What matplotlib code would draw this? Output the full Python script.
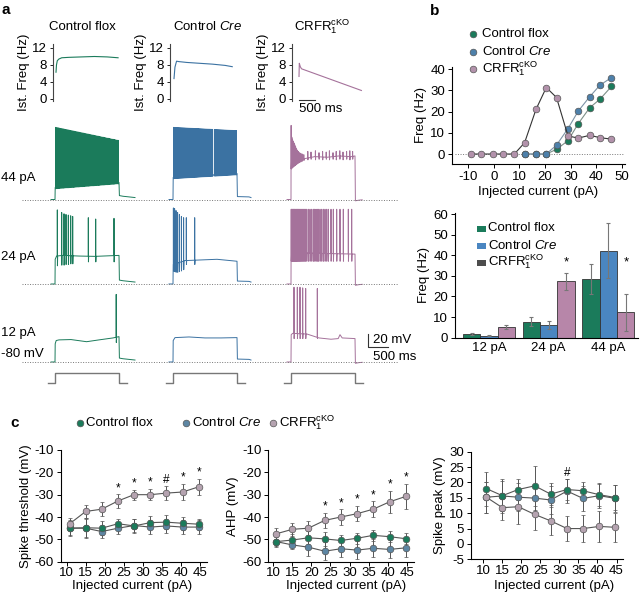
import numpy as np
import matplotlib
matplotlib.use('Agg')
import matplotlib.pyplot as plt
from matplotlib.lines import Line2D
from matplotlib.patches import Rectangle

plt.rcParams['font.family'] = ['Liberation Sans', 'DejaVu Sans']
plt.rcParams['mathtext.fontset'] = 'custom'
plt.rcParams['mathtext.rm'] = 'Liberation Sans'
plt.rcParams['mathtext.it'] = 'Liberation Sans:italic'
plt.rcParams['mathtext.bf'] = 'Liberation Sans:bold'
plt.rcParams['axes.linewidth'] = 0.8
plt.rcParams['axes.unicode_minus'] = False

# ---------------- data ----------------
group_labels = ['Control flox', r'Control $\mathit{Cre}$', r'CRFR$_1^{\mathrm{cKO}}$']
c_green = '#1b7b5b'
c_blue = '#3b72a2'
c_purple = '#a5729b'

# panel a insets: instantaneous frequency (Hz) vs time (ms)
ins_t_flox = [0, 15, 40, 90, 180, 400, 800, 1200, 1600, 1940]
ins_f_flox = [6.3, 8.0, 9.0, 9.4, 9.7, 9.8, 9.9, 10.0, 9.9, 9.7]
ins_t_cre = [0, 30, 80, 150, 400, 800, 1200, 1600, 1820]
ins_f_cre = [4.8, 7.5, 8.9, 8.8, 8.6, 8.4, 8.2, 7.9, 7.6]
ins_t_cko = [0, 10, 40, 80, 1950]
ins_f_cko = [5.3, 8.4, 7.6, 7.1, 2.0]

# panel a traces (mV, ms). Step 0-1600 ms, baseline -80 mV
step_dur = 1600
rows = ['44 pA', '24 pA', '12 pA']
row_off = [250, 120, 0]
col_off = [0, 2950, 5900]

# plateau knots
plat = {
    ('flox', '44 pA'): ([5, 1600], [-61.5, -53.8]),
    ('flox', '24 pA'): ([5, 40, 200, 600, 1000, 1400, 1600], [-42, -37, -36, -37, -37.5, -36.5, -36]),
    ('flox', '12 pA'): ([5, 30, 100, 400, 790, 1100, 1450, 1600], [-52, -47, -46, -45.5, -48.8, -46, -43, -41]),
    ('cre', '44 pA'): ([5, 1600], [-46, -40]),
    ('cre', '24 pA'): ([5, 300, 700, 1100, 1600], [-50, -44, -43, -42, -45]),
    ('cre', '12 pA'): ([5, 50, 400, 800, 1200, 1600], [-47, -42.5, -41.5, -43, -43, -42.5]),
    ('cko', '44 pA'): ([5, 50, 350, 600, 900, 1200, 1500, 1600], [-22, -24, -17, -14, -15, -13, -14, -13]),
    ('cko', '24 pA'): ([5, 1600], [-32, -34]),
    ('cko', '12 pA'): ([5, 40, 400, 700, 1000, 1180, 1225, 1280, 1600], [-38, -36, -37, -43, -45, -44, -38, -43, -44]),
}
# spikes: times (ms), peaks (mV), troughs (mV)
spk = {
    ('flox', '24 pA'): ([58, 167, 225, 275, 333, 392, 442, 833, 1017, 1475],
                        [34, 30, 28, 27, 26, 25, 24, 22, 20, 21],
                        [-52, -51, -51, -50, -50, -49, -49, -46, -46, -46]),
    ('flox', '12 pA'): ([1530], [24], [-50]),
    ('cre', '24 pA'): ([10, 40, 75, 115, 160, 210, 265, 333, 542],
                       [37, 36, 33, 30, 27, 24, 22, 22, 22],
                       [-60, -61, -62, -62, -61, -60, -58, -50, -50]),
    ('cre', '12 pA'): ([], [], []),
    ('cko', '44 pA'): ([3, 20, 38, 56, 75, 95, 116, 138, 162, 188, 216, 246, 280, 320,
                        420, 500, 610, 700, 790, 880, 960, 1050, 1130, 1220, 1300, 1390, 1470, 1540],
                       [34, 16, 13, 10, 7, 4, 1, -2, -4, -6, -8, -9, -10, -11,
                        -6, -7, -5, -8, -6, -7, -5, -8, -6, -5, -7, -6, -5, -6],
                       [-33, -32, -31, -30, -29, -28, -27, -26, -25, -24, -23, -22, -21, -20,
                        -19, -18, -19, -18, -19, -18, -19, -18, -19, -18, -19, -18, -19, -18]),
    ('cko', '24 pA'): ([5, 22, 40, 58, 76, 95, 114, 133, 153, 173, 194, 215, 237, 260, 284, 308, 333, 360,
                        392, 433, 475, 517, 558, 592, 625, 655, 683, 725, 767, 808, 850, 892, 933, 1000,
                        1058, 1142, 1225, 1308, 1433, 1517],
                       [35] * 40, [-45] * 40),
    ('cko', '12 pA'): ([75, 158, 225, 292, 367, 658], [35, 35, 35, 34, 33, 33], [-44, -44, -44, -44, -44, -44]),
}
# post-step (time, mV)
post = {
    'flox': ([1610, 1700, 2000], [-74, -75, -77]),
    'cre': ([1610, 1900, 1950], [-75.5, -76, -77]),
    'cko': ([1610, 1700, 1780], [-82, -81, -80.5]),
}

# panel b: frequency-current
b_current = [-9, -5, -0.5, 3.5, 8, 12, 16.5, 20.5, 24.5, 29, 33, 37.5, 41.5, 46]
b_flox = [0, 0, 0, 0, 0, 0, 0, 0, 2.2, 6.3, 14.3, 21.8, 25.8, 31.8]
b_cre = [0, 0, 0, 0, 0, 0, 0, 0, 4.2, 12.0, 20.2, 27.0, 32.4, 36.0]
b_cko = [0, 0, 0, 0, 0, 5.3, 21.1, 31.3, 26.6, 8.5, 7.5, 8.8, 7.7, 7.0]

# dense spike trains at 44 pA from panel b frequencies
n_flox44 = int(round(b_flox[-1] * step_dur / 1000))
n_cre44 = int(round(b_cre[-1] * step_dur / 1000))

# panel b bars
bar_currents = ['12 pA', '24 pA', '44 pA']
bar_flox = [1.7, 7.8, 28.5]
bar_flox_err = [0.6, 2.2, 7.3]
bar_cre = [1.0, 6.1, 42.3]
bar_cre_err = [0.4, 1.8, 13.3]
bar_cko = [5.0, 27.3, 12.3]
bar_cko_err = [1.0, 4.3, 9.0]
bar_sig = ['', '*', '*']

# panel c
c_x = [10.8, 15.0, 19.2, 23.5, 27.7, 32.0, 36.2, 40.5, 44.7]
thr_flox = [-45, -44.8, -45, -43, -44, -42.5, -42.3, -42.8, -43.2]
thr_flox_err = [3, 4, 3, 2, 3, 3, 3, 3, 2.5]
thr_cre = [-45, -45, -46.5, -45, -43.8, -44.5, -44, -44.5, -44.5]
thr_cre_err = [3.5, 4.5, 3, 2.5, 3, 3, 3, 3, 3]
thr_cko = [-43, -37.5, -36.5, -32.8, -30, -30, -29.3, -28.8, -26.5]
thr_cko_err = [2.5, 3, 3, 3, 2.2, 2.5, 3, 3.5, 3.5]
thr_sig = ['', '', '', '*', '*', '*', '#', '*', '*']

ahp_flox = [-51, -50.3, -49.3, -49.8, -50.5, -49.5, -48.2, -48.8, -49.7]
ahp_flox_err = [2.5, 2.5, 3, 3, 2.5, 2.5, 2.5, 2.5, 2.5]
ahp_cre = [-51, -52.5, -53.5, -55.3, -54.2, -54.8, -54, -54.5, -53.8]
ahp_cre_err = [2, 2, 4, 4, 3.5, 4, 4, 4, 4]
ahp_cko = [-47.5, -45.5, -45, -41.5, -40, -38.5, -36.5, -33.2, -30.8]
ahp_cko_err = [2.8, 3, 3, 3.5, 3.5, 3.5, 3.5, 5, 5.5]
ahp_sig = ['', '', '', '*', '*', '*', '*', '*', '*']

pk_flox = [18, 15.7, 17.7, 18.9, 16.2, 17.7, 17.3, 16, 15.1]
pk_flox_err = [5.5, 5.5, 3.5, 6.5, 3.5, 3.5, 3, 3.5, 4]
pk_cre = [15.2, 15.6, 15.2, 14.9, 14.3, 17.2, 14.8, 15.7, 14.8]
pk_cre_err = [5, 5, 4.5, 4, 4.5, 4, 4, 4, 4.5]
pk_cko = [15.2, 11.8, 12.1, 9.6, 7.5, 5, 5, 5.7, 5.4]
pk_cko_err = [5, 4, 5.5, 5, 4.5, 4, 4.5, 5, 4.8]
pk_sig = ['', '', '', '', '', '#', '', '', '']

# ---------------- figure ----------------
W, H = 640, 593
fig = plt.figure(figsize=(W / 100, H / 100), dpi=100)


def ax_px(l, t, r, b):
    return fig.add_axes([l / W, 1 - b / H, (r - l) / W, (b - t) / H])


def T(x, y, s, **kw):
    kw.setdefault('fontsize', 9)
    return fig.text(x / W, 1 - y / H, s, **kw)


def fig_marker(x, y, color, ms=4.8):
    fig.add_artist(Line2D([x / W], [1 - y / H], transform=fig.transFigure, marker='o', ms=ms,
                          mfc=color, mec='#555555', mew=0.5, ls='none'))


# panel letters
T(2, 10, 'a', fontsize=11, fontweight='bold', va='center')
T(430, 11, 'b', fontsize=11, fontweight='bold', va='center')
T(10, 423, 'c', fontsize=11, fontweight='bold', va='center')

# ---- panel a insets
ins = [(53, 56, ins_t_flox, ins_f_flox, c_green, 82),
       (170, 174, ins_t_cre, ins_f_cre, c_blue, 208),
       (292, 299, ins_t_cko, ins_f_cko, c_purple, 322)]
ms_per_px = 31.25
for i, (spx, t0, tt, ff, col, tx) in enumerate(ins):
    a = ax_px(spx, 43.75, spx + 72, 101.1)
    a.plot(tt, ff, color=col, lw=0.8)
    a.set_xlim(-(t0 - spx) * ms_per_px, (spx + 72 - t0) * ms_per_px)
    a.set_ylim(-0.5, 13)
    a.set_yticks([0, 4, 8, 12])
    a.set_xticks([])
    for s in ['top', 'right', 'bottom']:
        a.spines[s].set_visible(False)
    a.spines['left'].set_color('#444444')
    a.tick_params(axis='y', length=2.5, width=0.6, labelsize=9.5, pad=2)
    a.set_ylabel('Ist. Freq (Hz)', fontsize=9.5, labelpad=1)
    a.patch.set_alpha(0)
    T(tx, 27, group_labels[i], ha='center', va='center', fontsize=9.5)
    if i == 2:
        a.plot([0, 500], [-0.3, -0.3], color='#333333', lw=0.8, clip_on=False)
        a.text(0, -2.3, '500 ms', fontsize=9.5, ha='left', va='center')

# ---- panel a traces
axt = ax_px(0, 105, 400, 395)
axt.set_xlim(-1375, 8625)
axt.set_ylim(-130.8, 315.4)
axt.axis('off')
axt.patch.set_alpha(0)


def build_trace(pt, pv, spikes, post_tv, base=-80, t_pre=-100):
    pts = [(t_pre, base), (0, base)]
    pts += list(zip(pt, pv))
    st, sp, sr = spikes
    for ts, pk, tr in zip(st, sp, sr):
        pts += [(ts - 2, np.interp(ts - 2, pt, pv)), (ts, pk), (ts + 3, tr),
                (ts + 9, np.interp(ts + 9, pt, pv))]
    pts.sort(key=lambda p: p[0])
    pts.append((step_dur, np.interp(step_dur, pt, pv)))
    pts += list(zip(post_tv[0], post_tv[1]))
    arr = np.array(pts)
    return arr[:, 0], arr[:, 1]


def dense_train(n, t_first, t_last, pk0, pk1, pt, pv):
    ts = np.linspace(t_first, t_last, n)
    pks = np.interp(ts, [t_first, t_last], [pk0, pk1])
    trs = np.interp(ts, pt, pv) - 2
    return ts, pks, trs


genos = ['flox', 'cre', 'cko']
cols = [c_green, c_blue, c_purple]
for ci, g in enumerate(genos):
    for ri, r in enumerate(rows):
        pt, pv = plat[(g, r)]
        if (g, r) == ('flox', '44 pA'):
            spikes = dense_train(n_flox44, 20, 1580, 31, 11, pt, pv)
        elif (g, r) == ('cre', '44 pA'):
            ts, pks, trs = dense_train(n_cre44 + 1, 15, 1585, 31, 26, pt, pv)
            keep = np.abs(ts - 1025) > 14
            spikes = (ts[keep], pks[keep], trs[keep])
        else:
            spikes = spk[(g, r)]
        tx, vy = build_trace(pt, pv, spikes, post[g])
        axt.plot(tx + col_off[ci], vy + row_off[ri], color=cols[ci], lw=0.7)

for ri, r in enumerate(rows):
    axt.plot([-825, 8575], [-80 + row_off[ri]] * 2, color='#777777', lw=0.7, ls=(0, (1, 1.6)))

# row labels
T(1, 178, '44 pA', va='center', fontsize=9.5)
T(1, 257, '24 pA', va='center', fontsize=9.5)
T(1, 333, '12 pA', va='center', fontsize=9.5)
T(1, 354, '-80 mV', va='center', fontsize=9.5)

# scale bars
sx, sy = 7825, -56.9
axt.plot([sx, sx, sx + 500], [sy + 20, sy, sy], color='#333333', lw=0.8)
axt.text(7958, -46.2, '20 mV', fontsize=9.5, va='center', ha='left')
axt.text(7958, -71.8, '500 ms', fontsize=9.5, va='center', ha='left')

# stimulus
axs = ax_px(0, 368, 400, 388)
axs.set_xlim(-1375, 8625)
axs.set_ylim(-0.5, 1.5)
axs.axis('off')
axs.patch.set_alpha(0)
for ci in range(3):
    o = col_off[ci]
    axs.plot(np.array([-175, 0, 0, step_dur, step_dur, 1800]) + o, [0, 0, 1, 1, 0, 0],
             color='#777777', lw=1.0)

# ---- panel b top
axb = ax_px(452, 66.7, 625, 164)
axb.axhline(0, color='#777777', lw=0.7, ls=(0, (1, 1.6)), xmin=0.02, xmax=0.99)
axb.plot(b_current[5:], b_flox[5:], color='#7d8f88', lw=0.8, marker='o', ms=4.8,
         mfc=c_green, mec='#555555', mew=0.5, zorder=3)
axb.plot(b_current[5:], b_cre[5:], color='#7d93a6', lw=0.8, marker='o', ms=4.8,
         mfc='#4d80aa', mec='#555555', mew=0.5, zorder=3)
axb.plot(b_current, b_cko, color='#333333', lw=0.8, marker='o', ms=4.8,
         mfc='#b292ab', mec='#555555', mew=0.5, zorder=4)
axb.set_xlim(-16.4, 51.3)
axb.set_ylim(-4.7, 41.1)
axb.set_xticks([-10, 0, 10, 20, 30, 40, 50])
axb.set_yticks([0, 10, 20, 30, 40])
for s in ['top', 'right']:
    axb.spines[s].set_visible(False)
axb.tick_params(length=3, width=0.7, labelsize=9.5, pad=2)
axb.set_xlabel('Injected current (pA)', fontsize=9.5, labelpad=2)
axb.set_ylabel('Freq (Hz)', fontsize=9.5, labelpad=2)
axb.patch.set_alpha(0)

# legend b top
for (y, lab, mc) in [(34.3, group_labels[0], c_green), (51.7, group_labels[1], '#4d80aa'),
                     (69, group_labels[2], '#b292ab')]:
    fig_marker(473.3, y, mc)
    T(481.7, y, lab, va='center', fontsize=9.5)

# ---- panel b bars
axbar = ax_px(455, 213, 638, 337.7)
xg = np.arange(len(bar_currents))
bw = 0.29
ekw = dict(ecolor='#777777', elinewidth=0.8, capsize=1.5, capthick=0.8)
axbar.bar(xg - bw, bar_flox, bw, yerr=bar_flox_err, color='#1b7b5b', edgecolor='#333333', lw=0.6,
          error_kw=ekw)
axbar.bar(xg, bar_cre, bw, yerr=bar_cre_err, color='#4a86c1', edgecolor='#333333', lw=0.6,
          error_kw=ekw)
axbar.bar(xg + bw, bar_cko, bw, yerr=bar_cko_err, color='#b786a9', edgecolor='#333333', lw=0.6,
          error_kw=ekw)
for i, s in enumerate(bar_sig):
    if s:
        axbar.text(xg[i] + bw, 36.5, s, ha='center', va='center', fontsize=9.5)
axbar.set_xlim(-0.569, 2.494)
axbar.set_ylim(0, 60.5)
axbar.set_yticks([0, 10, 20, 30, 40, 50, 60])
axbar.set_xticks(xg)
axbar.set_xticklabels(bar_currents)
for s in ['top', 'right']:
    axbar.spines[s].set_visible(False)
axbar.tick_params(axis='y', length=3, width=0.7, labelsize=9.5, pad=2)
axbar.tick_params(axis='x', length=0, labelsize=9.5, pad=3)
axbar.set_ylabel('Freq (Hz)', fontsize=9.5, labelpad=2)
axbar.patch.set_alpha(0)

for (y, lab, fc) in [(229, group_labels[0], '#1b7b5b'), (246, group_labels[1], '#4a86c1'),
                     (263, group_labels[2], '#4d4d4d')]:
    fig.add_artist(Rectangle(((477) / W, 1 - (y + 3) / H), 9 / W, 6 / H, transform=fig.transFigure,
                             facecolor=fc, edgecolor='none'))
    T(488.3, y - 1, lab, va='center', fontsize=9.5)

# ---- panel c
for (x, lab, mc, tx) in [(80, group_labels[0], c_green, 86), (186, group_labels[1], '#5d86a3', 192),
                         (273, group_labels[2], '#b5a3b0', 279)]:
    fig_marker(x, 423, mc)
    T(tx, 423, lab, va='center', fontsize=9.5)

c_specs = [
    ((61, 450, 207, 561.7), (8.5, 46.9), (-60, -10), np.arange(-60, -9, 10), 'Spike threshold (mV)',
     thr_flox, thr_flox_err, thr_cre, thr_cre_err, thr_cko, thr_cko_err, thr_sig, 'thr', 132),
    ((268.3, 450, 414, 561.7), (8.69, 46.9), (-60, -10), np.arange(-60, -9, 10), 'AHP (mV)',
     ahp_flox, ahp_flox_err, ahp_cre, ahp_cre_err, ahp_cko, ahp_cko_err, ahp_sig, 'ahp', 346),
    ((470.7, 451.7, 623, 559.3), (6.69, 46.7), (-5, 30), np.arange(-5, 31, 5), 'Spike peak (mV)',
     pk_flox, pk_flox_err, pk_cre, pk_cre_err, pk_cko, pk_cko_err, pk_sig, 'pk', 554),
]
for (box, xl, yl, yt, ylab, f, fe, c, ce, k, ke, sig, kind, xlab_x) in c_specs:
    a = ax_px(*box)
    ekc = dict(ecolor='#555555', elinewidth=0.7, capsize=1.5, capthick=0.7)
    order = [(c, ce, '#5d86a3'), (f, fe, c_green), (k, ke, '#b5a3b0')]
    for (yv, ye, mc) in order:
        a.errorbar(c_x, yv, yerr=ye, color='#555555', lw=0.8, marker='o', ms=4.8, mfc=mc,
                   mec='#555555', mew=0.5, **ekc)
    for i, s in enumerate(sig):
        if s:
            top = k[i] + ke[i]
            if kind == 'pk':
                top = max(f[i] + fe[i], c[i] + ce[i])
            a.text(c_x[i], top + 2.8 * (0.7 if kind == 'pk' else 1), s, ha='center', va='center',
                   fontsize=8.5)
    a.set_xlim(*xl)
    a.set_ylim(*yl)
    a.set_yticks(yt)
    a.set_xticks([10, 15, 20, 25, 30, 35, 40, 45])
    for s in ['top', 'right']:
        a.spines[s].set_visible(False)
    a.tick_params(length=3, width=0.7, labelsize=9.5, pad=2)
    a.tick_params(axis='x', pad=1)
    a.set_ylabel(ylab, fontsize=9.5, labelpad=2)
    a.patch.set_alpha(0)
    T(xlab_x, 586.5, 'Injected current (pA)', ha='center', va='center', fontsize=9.5)

fig.savefig('out.png', dpi=100)
